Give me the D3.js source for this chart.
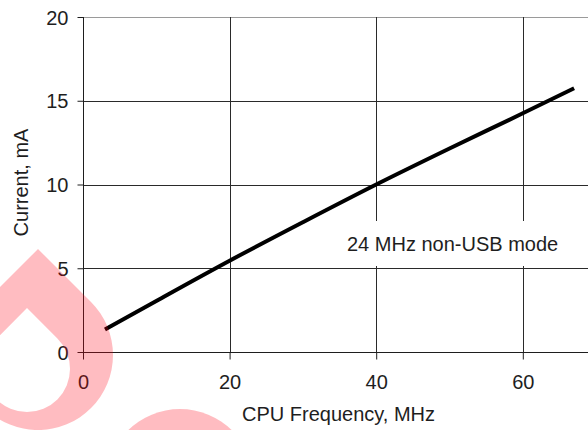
<!DOCTYPE html>
<html>
<head>
<meta charset="utf-8">
<script src="https://cdn.jsdelivr.net/npm/d3@7"></script>
<style>
  html, body { margin: 0; padding: 0; background: #fff; }
  svg { display: block; }
  text { font-family: "Liberation Sans", Arial, sans-serif; fill: #1e1e1e; }
</style>
</head>
<body>
<svg id="chart" width="588" height="430"></svg>
<script>
// ---- data ----
const frequencyMHz = [3, 10, 20, 30, 40, 50, 60, 67];
const currentMA    = [1.35, 3.05, 5.45, 7.75, 10.0, 12.15, 14.25, 15.75];
const xTicks = [0, 20, 40, 60];
const yTicks = [0, 5, 10, 15, 20];
const xTitle = "CPU Frequency, MHz";
const yTitle = "Current, mA";
const annotation = "24 MHz non-USB mode";

const svg = d3.select("#chart");
const x = d3.scaleLinear().domain([0, 70]).range([83, 596.1]);
const y = d3.scaleLinear().domain([0, 20]).range([352, 17]);

// gridlines
svg.append("g").selectAll("line.h").data(yTicks.filter(d => d > 0)).join("line")
  .attr("x1", x(0)).attr("x2", 588)
  .attr("y1", d => Math.round(y(d)) + 0.5).attr("y2", d => Math.round(y(d)) + 0.5)
  .attr("stroke", d => d === 20 ? "#9a9a9a" : "#2a2a2a").attr("stroke-width", 1);
svg.append("g").selectAll("line.v").data(xTicks.filter(d => d > 0)).join("line")
  .attr("x1", d => Math.round(x(d)) + 0.5).attr("x2", d => Math.round(x(d)) + 0.5)
  .attr("y1", y(20)).attr("y2", y(0))
  .attr("stroke", "#2a2a2a").attr("stroke-width", 1);

// axes
const xAxis = svg.append("g").attr("transform", `translate(0,${Math.round(y(0)) + 0.5})`)
  .call(d3.axisBottom(x).tickValues(xTicks).tickSize(7).tickPadding(6).tickFormat(d3.format("d")));
xAxis.select(".domain").attr("d", `M${x(0)},0H588`).attr("stroke", "#1e1e1e");
xAxis.selectAll(".tick line").attr("stroke", "#1e1e1e");
xAxis.selectAll(".tick text").attr("font-size", 20).attr("font-family", null).attr("fill", "#1e1e1e")
  .attr("dy", null).attr("y", 36);

const yAxis = svg.append("g").attr("transform", `translate(${Math.round(x(0)) + 0.5},0)`)
  .call(d3.axisLeft(y).tickValues(yTicks).tickSize(6).tickPadding(9).tickFormat(d3.format("d")));
yAxis.select(".domain").attr("d", `M0,${y(20)}V${y(0)}`).attr("stroke", "#1e1e1e");
yAxis.selectAll(".tick line").attr("stroke", "#1e1e1e");
yAxis.selectAll(".tick text").attr("font-size", 20).attr("font-family", null).attr("fill", "#1e1e1e")
  .attr("x", -15).attr("dy", "0.35em");
xAxis.attr("font-family", null); yAxis.attr("font-family", null);

// annotation with white background
svg.append("rect").attr("x", 338).attr("y", 221).attr("width", 228).attr("height", 45).attr("fill", "#fff");
svg.append("text").attr("x", 347).attr("y", 251).attr("font-size", 20).text(annotation);

// data line
const line = d3.line().curve(d3.curveMonotoneX).x((d, i) => x(frequencyMHz[i])).y(d => y(d));
svg.append("path").datum(currentMA).attr("d", line)
  .attr("fill", "none").attr("stroke", "#000").attr("stroke-width", 4);

// titles
svg.append("text").attr("x", 338.5).attr("y", 421).attr("text-anchor", "middle")
  .attr("font-size", 20).text(xTitle);
svg.append("text").attr("transform", "translate(28,182.5) rotate(-90)").attr("text-anchor", "middle")
  .attr("font-size", 20).text(yTitle);

// pink watermark overlay
svg.append("path")
  .attr("d", "M38,249 L91,302 A75,75 0 1 1 -15,302 Z M27,308 L57.4,338.6 A43,43 0 1 1 -3.4,338.6 Z")
  .attr("fill", "rgb(255,0,20)").attr("fill-opacity", 0.263).attr("fill-rule", "evenodd");
svg.append("circle").attr("cx", 180).attr("cy", 483).attr("r", 74)
  .attr("fill", "rgb(255,0,20)").attr("fill-opacity", 0.263);
</script>
</body>
</html>
